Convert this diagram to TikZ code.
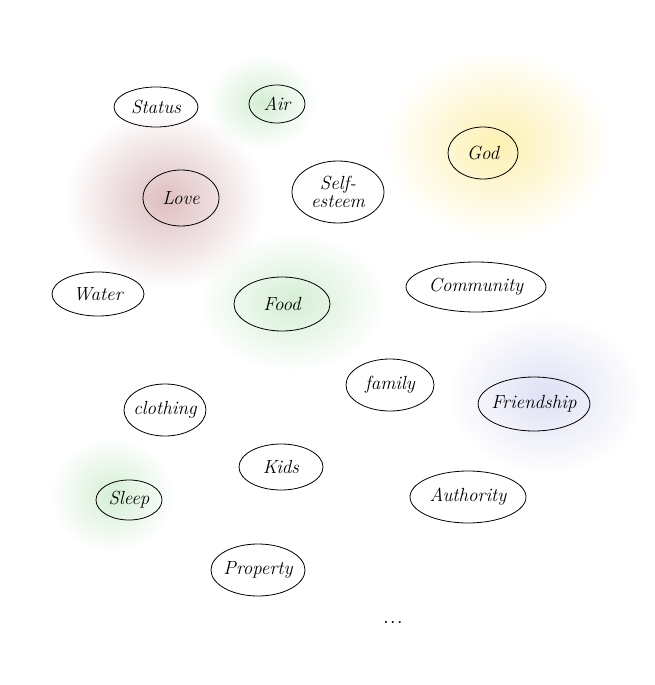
\documentclass[tikz,border=0pt]{standalone}
\usepackage{tikz}
\usetikzlibrary{shapes.geometric,fadings}
\tikzfading[name=glowfade, inner color=transparent!0, outer color=transparent!100]
\definecolor{glowred}{RGB}{222,190,192}
\definecolor{glowgreen}{RGB}{212,238,212}
\definecolor{glowyellow}{RGB}{253,240,178}
\definecolor{glowblue}{RGB}{222,224,244}
\begin{document}
\begin{tikzpicture}[x=1pt,y=-1pt,
  need/.style={ellipse,draw,line width=0.8pt,inner sep=-3pt,
    font=\fontsize{19}{18}\selectfont\itshape,align=center},
  glow/.style={fill=#1,path fading=glowfade}]
  \useasboundingbox (0,0) rectangle (654,685);
  % coloured haze
  \fill[glow=glowred] (165,200) ellipse (100 and 90);
  \fill[glow=glowgreen] (262,102) ellipse (55 and 48);
  \fill[glow=glowyellow] (498,145) ellipse (115 and 95);
  \fill[glow=glowgreen] (292,302) ellipse (95 and 70);
  \fill[glow=glowblue] (545,395) ellipse (98 and 80);
  \fill[glow=glowgreen] (112,495) ellipse (62 and 58);
  % needs
  \node[need,minimum width=84,minimum height=40](status) at (156,107){Status};
  \node[need,minimum width=56,minimum height=38](air) at (277,104){Air};
  \node[need,minimum width=70,minimum height=52](god) at (483,153){God};
  \node[need,minimum width=76,minimum height=56](love) at (181,198){Love};
  \node[need,minimum width=92,minimum height=62](self) at (338,192){Self-\\esteem};
  \node[need,minimum width=92,minimum height=44](water) at (98,294){Water};
  \node[need,minimum width=96,minimum height=54](food) at (282,304){Food};
  \node[need,minimum width=140,minimum height=50](community) at (476,287){Community};
  \node[need,minimum width=88,minimum height=52](family) at (390,385){family};
  \node[need,minimum width=104,minimum height=54](friendship) at (534,404){Friendship};
  \node[need,minimum width=82,minimum height=52](clothing) at (165,410){clothing};
  \node[need,minimum width=84,minimum height=46](kids) at (281,467){Kids};
  \node[need,minimum width=66,minimum height=40](sleep) at (129,500){Sleep};
  \node[need,minimum width=116,minimum height=52](authority) at (468,497){Authority};
  \node[need,minimum width=94,minimum height=52](property) at (258,570){Property};
  \node[font=\Large\bfseries](dots) at (393,622){.\,.\,.};
\end{tikzpicture}
\end{document}
